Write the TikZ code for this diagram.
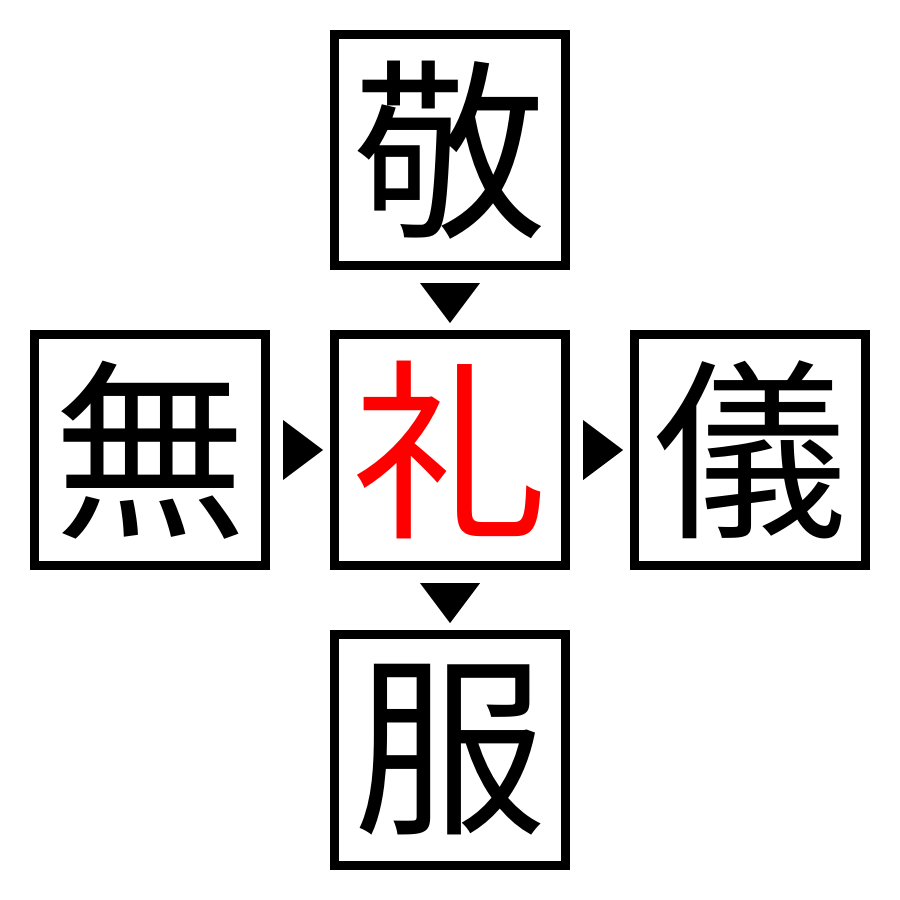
\documentclass[tikz,border=0pt]{standalone}
\usepackage{fontspec}
\newfontfamily\cjk{Noto Sans CJK JP}
\begin{document}
\begin{tikzpicture}[x=0.01cm,y=-0.01cm,
  box/.style={draw=black,line width=0.09cm,minimum size=2.31cm,inner sep=0pt,font=\cjk\fontsize{55}{55}\selectfont},
  tri/.style={fill=black}]
\useasboundingbox (0,0) rectangle (900,900);
\node[box] (t) at (450,150) {敬};
\node[box] (l) at (150,450) {無};
\node[box,text=red] (c) at (450,450) {礼};
\node[box] (r) at (750,450) {儀};
\node[box] (b) at (450,750) {服};
\fill[tri] ([shift={(-30,13)}]t.south) -- ([shift={(30,13)}]t.south) -- ([shift={(0,53)}]t.south) -- cycle;
\fill[tri] ([shift={(-30,13)}]c.south) -- ([shift={(30,13)}]c.south) -- ([shift={(0,53)}]c.south) -- cycle;
\fill[tri] ([shift={(13,-30)}]l.east) -- ([shift={(13,30)}]l.east) -- ([shift={(53,0)}]l.east) -- cycle;
\fill[tri] ([shift={(13,-30)}]c.east) -- ([shift={(13,30)}]c.east) -- ([shift={(53,0)}]c.east) -- cycle;
\end{tikzpicture}
\end{document}
